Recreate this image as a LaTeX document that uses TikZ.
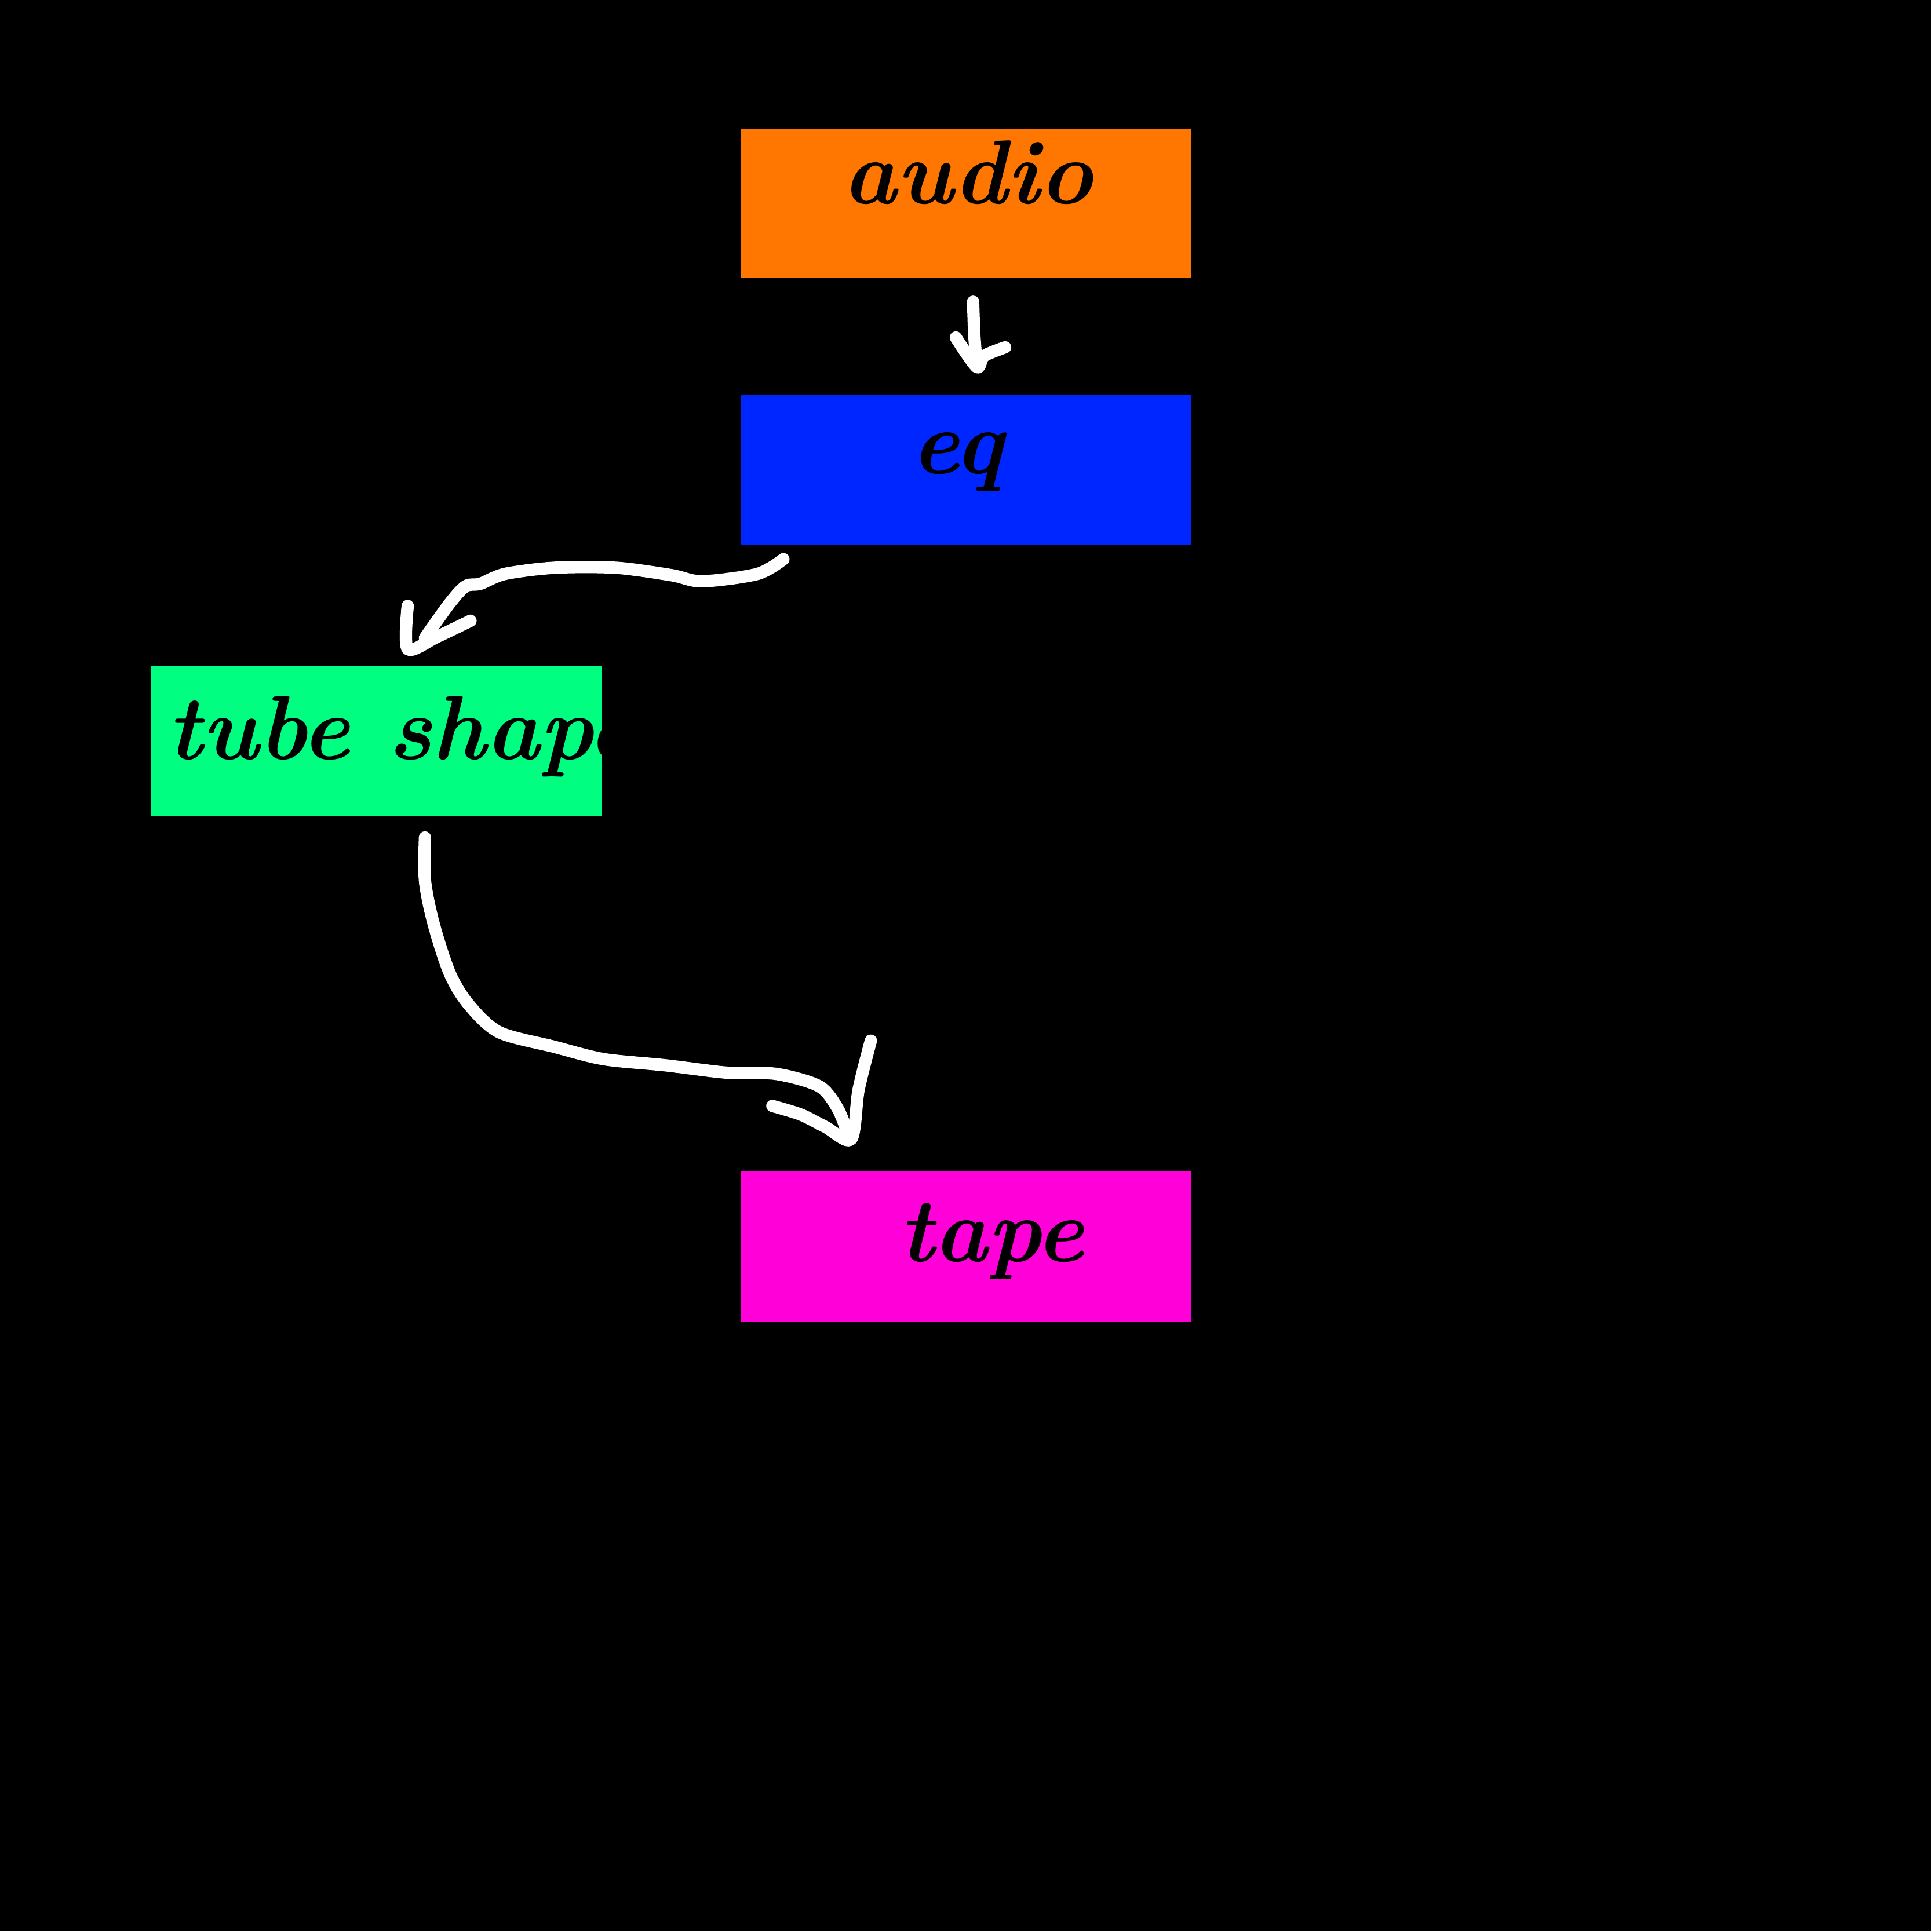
\documentclass[tikz,border=0pt]{standalone}
\begin{document}
\begin{tikzpicture}[x=0.01cm,y=-0.01cm,
  blk/.style={inner sep=0pt},
  lbl/.style={font=\fontsize{21}{24}\selectfont\bfseries\itshape,text=black,inner sep=0pt},
  pen/.style={draw=white,line width=0.1cm,line cap=round,line join=round}]
\useasboundingbox (0,0) rectangle (1568,1568);
\fill[black] (0,0) rectangle (1568,1568);
\definecolor{cor}{HTML}{FF7700}
\definecolor{cbl}{HTML}{0026FF}
\definecolor{cgr}{HTML}{00FF80}
\definecolor{cmg}{HTML}{FF00D8}
\fill[cor] (601,105) rectangle (967,226);
\fill[cbl] (601,321) rectangle (967,442);
\fill[cgr] (123,541) rectangle (489,663);
\fill[cmg] (601,951) rectangle (967,1073);
\node[lbl] (audio) at (786,140) {audio};
\node[lbl] (eq) at (777,375) {eq};
\node[lbl,anchor=west] (tube) at (135,598) {tube shaper};
\node[lbl] (tape) at (805,1008) {tape};
\draw[pen] plot[smooth] coordinates {(790,245) (791,272) (793,298)};
\draw[pen] plot[smooth] coordinates {(776,274) (793,298) (799,289) (816,282)};
\draw[pen] plot[smooth] coordinates {(636,454) (615,466) (570,472) (545,467) (500,461) (450,461) (410,466) (390,474) (378,476) (365,490) (345,518)};
\draw[pen] plot[smooth] coordinates {(331,492) (331,527) (355,517) (382,504)};
\draw[pen] plot[smooth] coordinates {(345,680) (345,715) (352,750) (365,790) (380,815) (405,838) (450,850) (490,860) (540,865) (590,871) (630,872) (665,882) (680,900) (688,920)};
\draw[pen] plot[smooth] coordinates {(707,845) (697,885) (691,925) (670,915) (650,905) (627,898)};
\end{tikzpicture}
\end{document}
